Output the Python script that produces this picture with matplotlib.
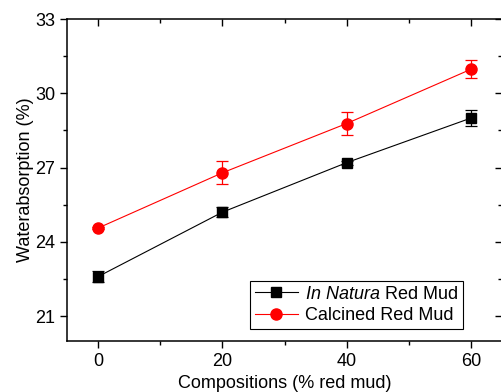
import matplotlib
matplotlib.use("Agg")
import matplotlib.pyplot as plt
from matplotlib.ticker import MultipleLocator
from matplotlib.lines import Line2D

plt.rcParams['font.family'] = ['Liberation Sans', 'DejaVu Sans']
plt.rcParams['mathtext.fontset'] = 'custom'
plt.rcParams['mathtext.rm'] = 'Liberation Sans'
plt.rcParams['mathtext.it'] = 'Liberation Sans:italic'

# data
compositions = [0, 20, 40, 60]
natura = [22.6, 25.2, 27.2, 29.0]
natura_err = [0.22, 0.2, 0.08, 0.33]
calcined = [24.56, 26.79, 28.78, 30.97]
calcined_err = [0.05, 0.46, 0.47, 0.37]

pos = [67 / 501, 1 - 341 / 392, 435 / 501, 322 / 392]
fig = plt.figure(figsize=(5.01, 3.92), dpi=100)
ax = fig.add_axes(pos)

ax.errorbar(compositions, natura, yerr=natura_err, color='black', lw=0.8,
            marker='s', markersize=7, capsize=4, elinewidth=0.9, capthick=0.9)
ax.errorbar(compositions, calcined, yerr=calcined_err, color='red', lw=0.8,
            marker='o', markersize=8, capsize=4, elinewidth=0.9, capthick=0.9)

def setup(a):
    a.set_xlim(-5, 65)
    a.set_ylim(20, 33)
    a.xaxis.set_major_locator(MultipleLocator(20))
    a.xaxis.set_minor_locator(MultipleLocator(10))
    a.yaxis.set_major_locator(MultipleLocator(3))
    a.yaxis.set_minor_locator(MultipleLocator(1.5))

setup(ax)
ax.tick_params(which='both', direction='out', labelsize=13, width=1)
ax.tick_params(which='major', length=5)
ax.tick_params(which='minor', length=3)
for s in ax.spines.values():
    s.set_linewidth(1.1)

# top/right ticks point inwards
ax2 = fig.add_axes(pos, frameon=False)
setup(ax2)
ax2.patch.set_visible(False)
ax2.tick_params(which='both', direction='in', width=1, bottom=False, left=False,
                top=True, right=True, labelbottom=False, labelleft=False)
ax2.tick_params(which='major', length=5)
ax2.tick_params(which='minor', length=3)

ax.set_xlabel('Compositions (% red mud)', fontsize=13, labelpad=4)
ax.set_ylabel('Waterabsorption (%)', fontsize=13, labelpad=1)

handles = [
    Line2D([], [], color='black', lw=0.8, marker='s', markersize=7),
    Line2D([], [], color='red', lw=0.8, marker='o', markersize=8),
]
labels = [r'$\it{In\ Natura}$ Red Mud', 'Calcined Red Mud']
leg = ax.legend(handles, labels, loc='upper left', bbox_to_anchor=(0.4207, 0.186),
                fancybox=False, edgecolor='black', fontsize=13, borderpad=0.25,
                handlelength=2.4, labelspacing=0.25, borderaxespad=0,
                handletextpad=0.4, framealpha=1)
leg.get_frame().set_linewidth(0.8)

fig.savefig('out.png', dpi=100)
